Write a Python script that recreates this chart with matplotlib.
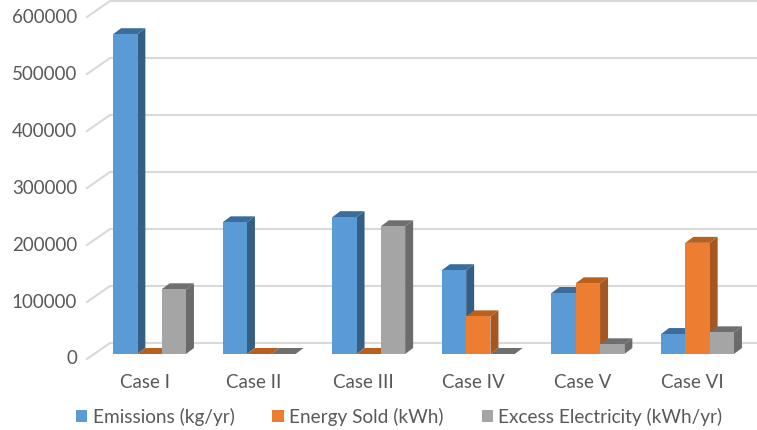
import matplotlib.pyplot as plt
from matplotlib.patches import Polygon
import numpy as np

plt.rcParams['font.family'] = ['Lato', 'DejaVu Sans']

# --- DATA ---
cases = ['Case I', 'Case II', 'Case III', 'Case IV', 'Case V', 'Case VI']
emissions = [561000, 231000, 240000, 147000, 107000, 35000]
energy_sold = [0, 0, 0, 66000, 124000, 195000]
excess = [113500, 0, 224000, 0, 17000, 38000]
y_ticks = [0, 100000, 200000, 300000, 400000, 500000, 600000]

series = [
    ('Emissions (kg/yr)', emissions, '#5B9BD5', '#3A6D9C', '#335F85'),
    ('Energy Sold (kWh)', energy_sold, '#ED7D31', '#B9601F', '#A5571F'),
    ('Excess Electricity (kWh/yr)', excess, '#A5A5A5', '#6F6F6F', '#6B6B6B'),
]

# --- SCALES (pixels of the 757x430 picture) ---
W, H = 757, 430
px_per_cat = 109.6
px_per_val = 57 / 100000
x0_px, y0_px = 149.5, 354

bar_w = 24.3 / px_per_cat
depth_x = 8 / px_per_cat
depth_y = 6 / px_per_val
# wall / floor offsets for the fake 3d frame
back_x = 110
front_x = 87
back_dy = 11 / px_per_val
front_dy = -5 / px_per_val

def cat_x(px):
    return (px - x0_px) / px_per_cat

fig = plt.figure(figsize=(W / 100, H / 100), dpi=100)
ax = fig.add_axes([0, 0, 1, 1])
ax.set_xlim(cat_x(0), cat_x(W))
ax.set_ylim(-(H - y0_px) / px_per_val, y0_px / px_per_val)
ax.axis('off')

# --- GRID ---
for v in y_ticks:
    ax.plot([cat_x(front_x), cat_x(back_x), cat_x(W)],
            [v + front_dy, v + back_dy, v + back_dy],
            color='#D9D9D9', lw=1.5, zorder=1)
    ax.text(cat_x(77), v + front_dy, str(v), ha='right', va='center',
            fontsize=13.5, color='#595959')

# --- BARS ---
x = np.arange(len(cases))
z = 2
handles = []
for i in x:
    for k, (name, vals, col, top, side) in enumerate(series):
        left = i + (k - 1.5) * bar_w
        right = left + bar_w
        v = vals[i]
        ax.add_patch(Polygon([(right, 0), (right + depth_x, depth_y),
                              (right + depth_x, v + depth_y), (right, v)],
                             facecolor=side, edgecolor='none', zorder=z))
        ax.add_patch(Polygon([(left, v), (left + depth_x, v + depth_y),
                              (right + depth_x, v + depth_y), (right, v)],
                             facecolor=top, edgecolor='none', zorder=z))
        b = ax.bar(left, v, width=bar_w, align='edge', color=col, zorder=z, label=name)
        if i == 0:
            handles.append(b)
        z += 1

# --- LABELS ---
for i, c in zip(x, cases):
    ax.text(i - 5 / px_per_cat, -(382 - y0_px) / px_per_val, c, ha='center',
            va='center', fontsize=13.5, color='#595959')

ax.legend(handles=handles, loc='center left',
          bbox_to_anchor=(76 / W, 1 - 417 / H), ncol=3, frameon=False,
          fontsize=13.7, labelcolor='#595959', handlelength=0.6, handleheight=0.6,
          handletextpad=0.27, columnspacing=2.0, borderpad=0, borderaxespad=0)

fig.savefig('out.png', dpi=100)
